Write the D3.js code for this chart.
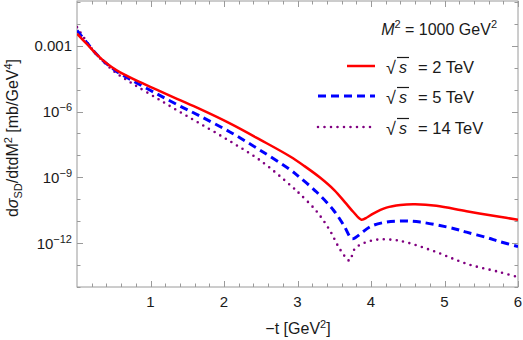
<!DOCTYPE html>
<html>
<head>
<meta charset="utf-8">
<script src="https://cdn.jsdelivr.net/npm/d3@7"></script>
<style>
  body { margin: 0; background: #fff; }
  text { font-family: "Liberation Sans", Arial, sans-serif; }
</style>
</head>
<body>
<svg id="chart" width="523" height="340"></svg>
<script>
const width = 523;
const height = 340;
const margin = { top: 1, right: 5, bottom: 53, left: 77 };

// curves: -t in GeV^2, log10 of dσ/dtdM² in mb/GeV^4
const tRed = [0, 0.14, 0.27, 0.41, 0.54, 0.68, 0.82, 1.09, 1.36, 1.67, 2.08, 2.49, 2.9, 3.1, 3.31, 3.5, 3.65, 3.76, 3.87, 3.95, 4.03, 4.21, 4.4, 4.6, 4.89, 5.3, 5.75, 6.0];
const logRed = [-2.45, -2.94, -3.40, -3.82, -4.12, -4.37, -4.60, -5.01, -5.42, -5.88, -6.54, -7.28, -8.05, -8.50, -9.02, -9.58, -10.15, -10.58, -10.93, -10.82, -10.65, -10.38, -10.26, -10.23, -10.30, -10.55, -10.80, -10.93];

const tBlue = [0, 0.14, 0.27, 0.41, 0.54, 0.68, 0.82, 1.09, 1.36, 1.67, 2.08, 2.49, 2.9, 3.03, 3.26, 3.49, 3.63, 3.74, 3.8, 3.87, 4.0, 4.21, 4.45, 4.67, 5.12, 5.3, 5.58, 5.75, 6.0];
const logBlue = [-2.30, -2.88, -3.40, -3.84, -4.17, -4.45, -4.71, -5.20, -5.68, -6.20, -6.93, -7.76, -8.65, -9.0, -9.67, -10.50, -11.19, -11.80, -11.72, -11.54, -11.23, -11.04, -10.99, -11.04, -11.33, -11.50, -11.75, -11.93, -12.15];

const tPurple = [0, 0.14, 0.27, 0.41, 0.54, 0.68, 0.82, 1.09, 1.36, 1.67, 2.08, 2.49, 2.9, 3.03, 3.26, 3.44, 3.56, 3.67, 3.71, 3.78, 3.9, 4.08, 4.3, 4.5, 4.89, 5.3, 5.75, 6.0];
const logPurple = [-2.15, -2.85, -3.42, -3.89, -4.26, -4.57, -4.86, -5.40, -5.94, -6.54, -7.35, -8.22, -9.35, -9.75, -10.55, -11.42, -12.18, -12.71, -12.80, -12.25, -12.0, -11.84, -11.85, -11.98, -12.41, -12.94, -13.32, -13.55];

const seriesNames = ['2 TeV', '5 TeV', '14 TeV'];
const seriesColors = ['#ff0000', '#0000ff', '#800080'];

const xMajor = [1, 2, 3, 4, 5, 6];
const yMajor = [1e-3, 1e-6, 1e-9, 1e-12];
const yMajorLabels = ['0.001', '10^-6', '10^-9', '10^-12'];

const svg = d3.select('#chart');
const x = d3.scaleLinear().domain([0, 6]).range([margin.left, width - margin.right]);
const y = d3.scaleLog().domain([1e-14, 0.11]).range([height - margin.bottom, margin.top]);

const plotW = width - margin.left - margin.right;
const plotH = height - margin.top - margin.bottom;
const textCol = '#1a1a1a';

// frame
svg.append('rect')
    .attr('x', margin.left).attr('y', margin.top)
    .attr('width', plotW).attr('height', plotH)
    .attr('fill', 'none').attr('stroke', '#9a9a9a').attr('stroke-width', 1);

// ticks, pointing inward on all sides
const xMinor = d3.range(0.2, 6, 0.2).filter(v => Math.abs(v - Math.round(v)) > 0.01);
const yMinor = d3.range(-14, 0).map(e => Math.pow(10, e)).filter(v => !yMajor.some(m => Math.abs(Math.log10(m) - Math.log10(v)) < 0.01));

const ticks = svg.append('g').attr('stroke', '#9a9a9a').attr('stroke-width', 1);
const bottom = height - margin.bottom;
const right = width - margin.right;

xMajor.concat(xMinor).forEach(v => {
    const len = xMajor.includes(v) ? 6 : 3.5;
    const px = Math.round(x(v)) + 0.5;
    ticks.append('line').attr('x1', px).attr('x2', px).attr('y1', bottom).attr('y2', bottom - len);
    ticks.append('line').attr('x1', px).attr('x2', px).attr('y1', margin.top).attr('y2', margin.top + len);
});
yMajor.concat(yMinor).forEach(v => {
    const len = yMajor.includes(v) ? 6 : 3.5;
    const py = Math.round(y(v)) + 0.5;
    ticks.append('line').attr('x1', margin.left).attr('x2', margin.left + len).attr('y1', py).attr('y2', py);
    ticks.append('line').attr('x1', right).attr('x2', right - len).attr('y1', py).attr('y2', py);
});

// tick labels
svg.append('g').selectAll('text')
    .data(xMajor)
    .enter().append('text')
    .attr('x', d => x(d))
    .attr('y', bottom + 20)
    .attr('text-anchor', 'middle')
    .attr('font-size', '15px')
    .attr('fill', textCol)
    .text(d => d);

const yLab = svg.append('g').selectAll('text')
    .data(yMajor)
    .enter().append('text')
    .attr('x', margin.left - 5)
    .attr('y', d => y(d) + 5.5)
    .attr('text-anchor', 'end')
    .attr('font-size', '15px')
    .attr('fill', textCol);

yLab.each(function(d, i) {
    const lab = yMajorLabels[i];
    const t = d3.select(this);
    if (lab.startsWith('10^')) {
        t.append('tspan').text('10');
        t.append('tspan').attr('dy', -6).attr('font-size', '11px').text('\u2212' + lab.slice(4));
    } else {
        t.text(lab);
    }
});

// axis titles
const xt = svg.append('text')
    .attr('x', 298)
    .attr('y', 334)
    .attr('text-anchor', 'middle')
    .attr('font-size', '16px')
    .attr('fill', textCol);
xt.append('tspan').text('\u2212t [GeV');
xt.append('tspan').attr('dy', -6).attr('font-size', '11px').text('2');
xt.append('tspan').attr('dy', 6).text(']');

const yt = svg.append('text')
    .attr('transform', 'translate(18,138) rotate(-90)')
    .attr('text-anchor', 'middle')
    .attr('font-size', '16px')
    .attr('fill', textCol);
yt.append('tspan').text('d');
yt.append('tspan').attr('font-style', 'italic').text('\u03c3');
yt.append('tspan').attr('dy', 4).attr('font-size', '11px').text('SD');
yt.append('tspan').attr('dy', -4).text('/dtdM');
yt.append('tspan').attr('dy', -6).attr('font-size', '11px').text('2');
yt.append('tspan').attr('dy', 6).text(' [mb/GeV');
yt.append('tspan').attr('dy', -6).attr('font-size', '11px').text('4');
yt.append('tspan').attr('dy', 6).text(']');

// curves
const line = d3.line()
    .x(d => x(d[0]))
    .y(d => y(Math.pow(10, d[1])))
    .curve(d3.curveCatmullRom.alpha(0.5));

const curves = [
    { t: tRed, v: logRed, dash: null, w: 2.5 },
    { t: tBlue, v: logBlue, dash: '8,5', w: 3 },
    { t: tPurple, v: logPurple, dash: '0,6.5', w: 2.6 }
];

svg.append('clipPath').attr('id', 'clip')
    .append('rect').attr('x', margin.left).attr('y', margin.top).attr('width', plotW).attr('height', plotH);

const plot = svg.append('g').attr('clip-path', 'url(#clip)');
curves.slice().reverse().forEach((c, k) => {
    const i = curves.length - 1 - k;
    plot.append('path')
        .datum(c.t.map((t, j) => [t, c.v[j]]))
        .attr('d', line)
        .attr('fill', 'none')
        .attr('stroke', seriesColors[i])
        .attr('stroke-width', c.w)
        .attr('stroke-linecap', c.dash && c.dash.startsWith('0') ? 'round' : 'butt')
        .attr('stroke-dasharray', c.dash);
});

// legend
const m2 = svg.append('text')
    .attr('x', 497).attr('y', 35)
    .attr('text-anchor', 'end')
    .attr('font-size', '16px')
    .attr('fill', textCol);
m2.append('tspan').attr('font-style', 'italic').text('M');
m2.append('tspan').attr('dy', -7).attr('font-size', '11px').text('2');
m2.append('tspan').attr('dy', 7).text(' = 1000 GeV');
m2.append('tspan').attr('dy', -7).attr('font-size', '11px').text('2');

const legY = [66, 96, 127];
const legX0 = [347, 318, 318];
seriesNames.forEach((name, i) => {
    const c = curves[i];
    svg.append('line')
        .attr('x1', legX0[i]).attr('x2', 375)
        .attr('y1', legY[i]).attr('y2', legY[i])
        .attr('stroke', seriesColors[i])
        .attr('stroke-width', c.w)
        .attr('stroke-linecap', c.dash && c.dash.startsWith('0') ? 'round' : 'butt')
        .attr('stroke-dasharray', c.dash);
    const base = legY[i] + 7;
    const g = svg.append('g');
    g.append('text')
        .attr('x', 386).attr('y', base + 1)
        .attr('font-size', '18px')
        .attr('fill', textCol)
        .text('\u221a');
    g.append('line')
        .attr('x1', 397).attr('x2', 409)
        .attr('y1', base - 15.5).attr('y2', base - 15.5)
        .attr('stroke', textCol).attr('stroke-width', 1.2);
    g.append('text')
        .attr('x', 399).attr('y', base)
        .attr('font-size', '16px')
        .attr('font-style', 'italic')
        .attr('fill', textCol)
        .text('s');
    g.append('text')
        .attr('x', 418).attr('y', base)
        .attr('font-size', '16.5px')
        .attr('fill', textCol)
        .text('= ' + name);
});
</script>
</body>
</html>
